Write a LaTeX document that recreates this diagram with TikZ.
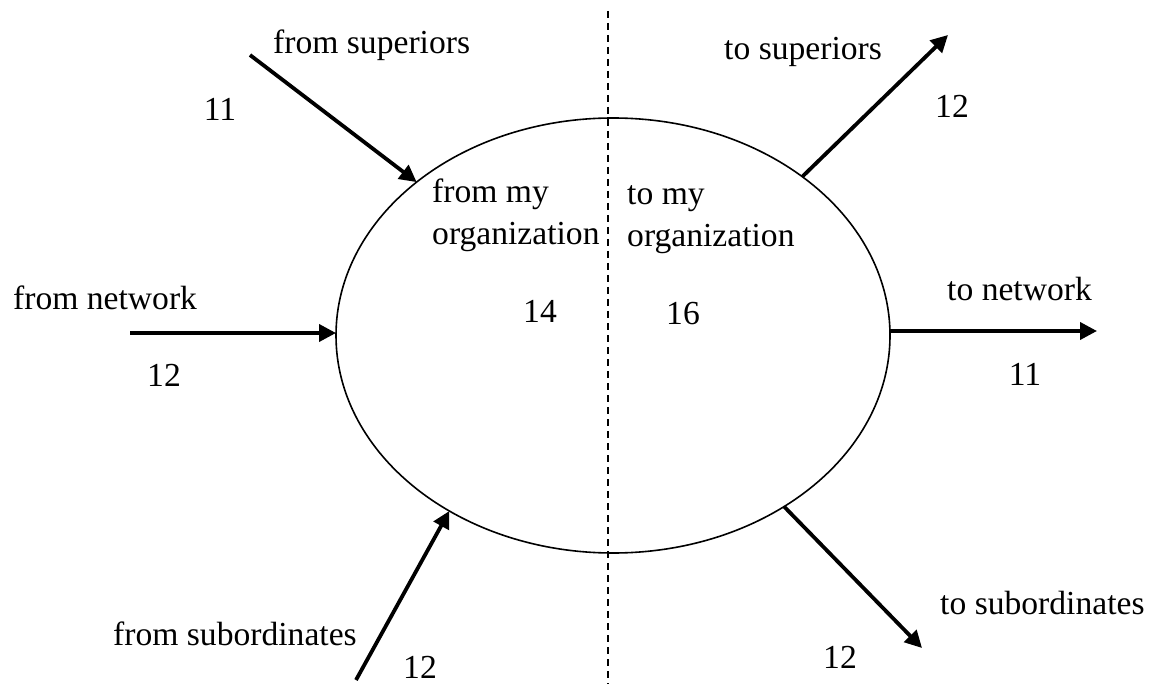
\documentclass[tikz,border=0pt]{standalone}
\usepackage{fontspec}
\setmainfont{Liberation Serif}
\usetikzlibrary{arrows.meta,shapes.geometric}
\begin{document}
\begin{tikzpicture}[x=1pt,y=-1pt,
  lbl/.style={inner sep=0pt,font=\fontsize{33.6}{40}\selectfont},
  arr/.style={line width=3.8pt,-{Triangle[length=17pt,width=17pt]}},
  divider/.style={line width=2.6pt,dash pattern=on 7pt off 5pt}]
\useasboundingbox (0,0) rectangle (1158,684);
% ellipse and divider
\node[draw,ellipse,line width=1.6pt,minimum width=554pt,minimum height=435pt,inner sep=0pt,outer sep=0pt] (org) at (613,335.5) {};
\coordinate (dtop) at (608,11);
\coordinate (dbot) at (608,684);
\draw[divider] (dtop) -- (dbot);
% free ends
\coordinate (fs) at (250,55);
\coordinate (ts) at (948,35);
\coordinate (fn) at (130,333);
\coordinate (tn) at (1097,331);
\coordinate (fb) at (356,680);
\coordinate (tb) at (922,648);
% arrows
\draw[arr] (fs) -- (org.142.2);
\draw[arr] (org.40.5) -- (ts);
\draw[arr] (fn) -- (fn -| org.west);
\draw[arr] (tn -| org.east) -- (tn);
\draw[arr] (fb) -- (org.227.8);
\draw[arr] (org.315.6) -- (tb);
% labels
\node[lbl,anchor=base west] (lfs) at (273,54) {from superiors};
\node[lbl,anchor=base west] (lts) at (724,60) {to superiors};
\node[lbl,anchor=base] (n11a) at (220,121) {11};
\node[lbl,anchor=base] (n12a) at (952,118) {12};
\node[lbl,anchor=base west] (lfo1) at (432,203) {from my};
\node[lbl,anchor=base west] (lfo2) at (432,245) {organization};
\node[lbl,anchor=base west] (lto1) at (627,205) {to my};
\node[lbl,anchor=base west] (lto2) at (627,247) {organization};
\node[lbl,anchor=base] (n14) at (540,322) {14};
\node[lbl,anchor=base] (n16) at (683,324) {16};
\node[lbl,anchor=base west] (lfn) at (13,309) {from network};
\node[lbl,anchor=base] (n12b) at (164,386) {12};
\node[lbl,anchor=base west] (ltn) at (947,301) {to network};
\node[lbl,anchor=base] (n11b) at (1025,385) {11};
\node[lbl,anchor=base west] (lfb) at (113,645) {from subordinates};
\node[lbl,anchor=base] (n12c) at (420,678) {12};
\node[lbl,anchor=base west] (ltb) at (940,614) {to subordinates};
\node[lbl,anchor=base] (n12d) at (840,668) {12};
\end{tikzpicture}
\end{document}
